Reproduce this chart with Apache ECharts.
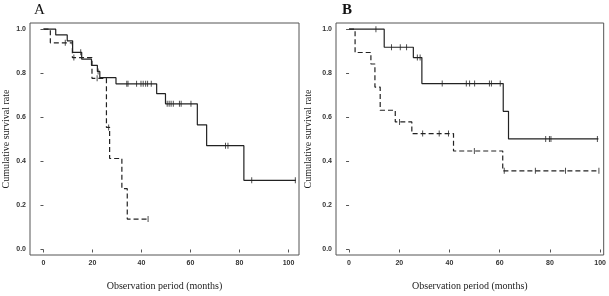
<!DOCTYPE html>
<html><head><meta charset="utf-8">
<script src="https://cdn.jsdelivr.net/npm/echarts@6/dist/echarts.min.js"></script>
<style>html,body{margin:0;padding:0;background:#fff}#c{width:609px;height:296px}</style>
</head><body><div id="c"></div>
<script>
// Panel A
const aSolid = [[0,1],[5,0.974],[9.7,0.947],[11.9,0.895],[15.6,0.864],[19.6,0.836],[22,0.808],[23,0.78],[29.6,0.752],[46.2,0.707],[49.8,0.661],[62.8,0.566],[66.6,0.471],[81.8,0.314],[103,0.314]];
const aSolidCens = [[15.2,0.895],[22.3,0.808],[34.0,0.752],[34.5,0.752],[38,0.752],[39.8,0.752],[40.7,0.752],[41.7,0.752],[42.5,0.752],[44,0.752],[50.5,0.661],[51.3,0.661],[52.1,0.661],[53,0.661],[55.5,0.661],[56.2,0.661],[60.2,0.661],[74.3,0.471],[75.3,0.471],[85,0.314],[102.8,0.314]];
const aDash = [[0,1],[2.8,0.938],[11.8,0.871],[19.8,0.777],[25.7,0.554],[27,0.413],[32,0.276],[34.2,0.138],[43,0.138]];
const aDashCens = [[8.9,0.938],[12.4,0.871],[21.9,0.777],[26.6,0.554],[42.7,0.138]];
// Panel B
const bSolid = [[0,1],[14,0.918],[25.6,0.871],[29,0.753],[61.4,0.627],[63.5,0.502],[99.3,0.502]];
const bSolidCens = [[10.7,1],[16.9,0.918],[20.4,0.918],[22.9,0.918],[27.2,0.871],[28.3,0.871],[37.1,0.753],[46.7,0.753],[48,0.753],[50,0.753],[55.9,0.753],[56.7,0.753],[60.2,0.753],[78.3,0.502],[79.8,0.502],[80.4,0.502],[98.9,0.502]];
const bDash = [[0,1],[2.4,0.894],[8.7,0.842],[10.3,0.737],[12.4,0.632],[18.4,0.579],[25,0.526],[41.6,0.447],[61.2,0.357],[99.7,0.357]];
const bDashCens = [[20.1,0.579],[29.3,0.526],[35.9,0.526],[39.6,0.526],[49.9,0.447],[61.8,0.357],[74.2,0.357],[86.2,0.357],[99.5,0.357]];
const xTicks = [0,20,40,60,80,100];
const yTicks = [0,0.2,0.4,0.6,0.8,1.0];
const xName = 'Observation period (months)';
const yName = 'Cumulative survival rate';

const ink = '#222';
const tickFont = {fontFamily:'Liberation Sans Narrow, Liberation Sans, sans-serif', fontSize:7, color:'#333', fontWeight:'bold'};
const nameFont = {fontFamily:'Liberation Serif, serif', fontSize:10, color:'#222'};

function xAxis(gi, min, max){
  return {type:'value', gridIndex:gi, min, max, name:xName, nameLocation:'middle', nameGap:26,
    nameTextStyle:nameFont, axisLine:{show:false}, splitLine:{show:false},
    axisTick:{show:true, length:3, inside:false, lineStyle:{color:'#555'}, customValues:xTicks},
    axisLabel:Object.assign({margin:5, customValues:xTicks, formatter:v=>String(v)}, tickFont)};
}
function yAxis(gi, gap){
  return {type:'value', gridIndex:gi, min:-0.025, max:1.028, name:yName, nameLocation:'middle', nameGap:gap,
    nameTextStyle:nameFont, axisLine:{show:false}, splitLine:{show:false},
    axisTick:{show:true, length:3, lineStyle:{color:'#555'}, customValues:yTicks},
    axisLabel:Object.assign({margin:4, customValues:yTicks, formatter:v=>v.toFixed(1)}, tickFont)};
}
function line(data, xi, dashed){
  return {type:'line', xAxisIndex:xi, yAxisIndex:xi, data, step:'end', showSymbol:false, symbol:'none',
    lineStyle:{color:ink, width:1.2, type: dashed ? [5,3] : 'solid'}, silent:true};
}
function cens(data, xi){
  return {type:'scatter', xAxisIndex:xi, yAxisIndex:xi, data, symbol:'rect', symbolSize:[1,6],
    itemStyle:{color:ink}, silent:true};
}
const chart = echarts.init(document.getElementById('c'), null, {renderer:'canvas'});
chart.setOption({
  animation:false,
  backgroundColor:'#fff',
  title:[
    {text:'A', left:29, top:-2, textStyle:{fontFamily:'Liberation Serif, serif', fontSize:15, fontWeight:'normal', color:'#111'}},
    {text:'B', left:337, top:-2, textStyle:{fontFamily:'Liberation Serif, serif', fontSize:15, fontWeight:'bold', color:'#111'}}
  ],
  grid:[
    {left:27, right:310, top:23, bottom:36, show:true, borderColor:'#555', borderWidth:1, backgroundColor:'transparent'},
    {left:336, right:5, top:23, bottom:36, show:true, borderColor:'#555', borderWidth:1, backgroundColor:'transparent'}
  ],
  xAxis:[xAxis(0,-5.5,104.3), xAxis(1,-5.2,101.4)],
  yAxis:[yAxis(0,19), yAxis(1,23)],
  series:[
    line(aSolid,0,false), line(aDash,0,true), cens(aSolidCens,0), cens(aDashCens,0),
    line(bSolid,1,false), line(bDash,1,true), cens(bSolidCens,1), cens(bDashCens,1)
  ]
});
</script></body></html>
